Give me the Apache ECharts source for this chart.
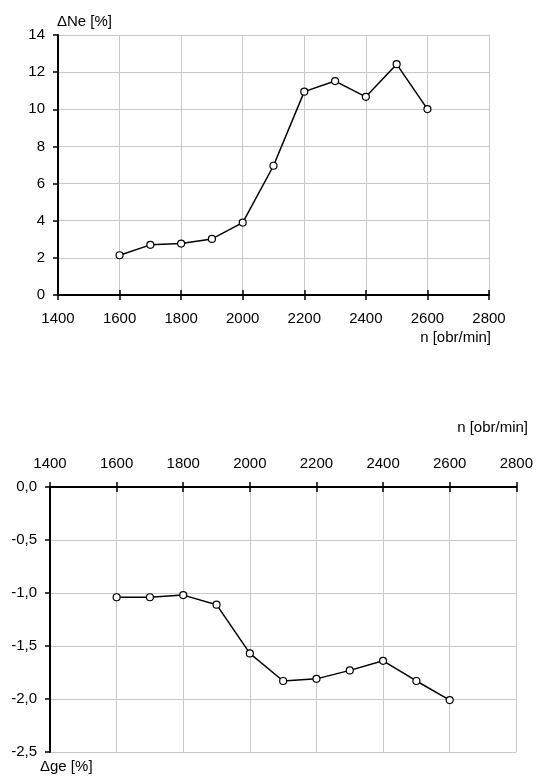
<!DOCTYPE html>
<html>
<head>
<meta charset="utf-8">
<script src="https://cdn.jsdelivr.net/npm/echarts@6/dist/echarts.min.js"></script>
<style>html,body{margin:0;padding:0;background:#fff}#c{width:536px;height:776px}</style>
</head>
<body>
<div id="c"></div>
<script>
// Data
const rpm = [1600, 1700, 1800, 1900, 2000, 2100, 2200, 2300, 2400, 2500, 2600];
const deltaNe = [2.14, 2.70, 2.77, 3.02, 3.90, 6.96, 10.95, 11.52, 10.67, 12.43, 10.01];
const deltaGe = [-1.04, -1.04, -1.02, -1.11, -1.57, -1.83, -1.81, -1.73, -1.64, -1.83, -2.01];
const xRange = [1400, 2800, 200];
const neRange = [0, 14, 2];
const geRange = [-2.5, 0, 0.5];
const labels = { ne: 'ΔNe [%]', ge: 'Δge [%]', n: 'n [obr/min]' };

const FONT = "'Liberation Sans', Arial, sans-serif";
const FS = 15;
const gridLine = { show: true, lineStyle: { color: '#c8c8c8', width: 1 } };
const axLine = { show: true, onZero: false, lineStyle: { color: '#000', width: 2 } };

function xMain(gridIndex, position) {
  return {
    type: 'value', gridIndex, position,
    min: xRange[0], max: xRange[1], interval: xRange[2],
    axisLine: axLine,
    axisTick: { show: true, inside: false, length: 5, lineStyle: { color: '#000', width: 1.5 } },
    axisLabel: { color: '#000', fontFamily: FONT, fontSize: FS, margin: 16, formatter: v => String(v) },
    splitLine: gridLine
  };
}
function xTickOnly(gridIndex, position) {
  return {
    type: 'value', gridIndex, position,
    min: xRange[0], max: xRange[1], interval: xRange[2],
    axisLine: { show: false, onZero: false },
    axisTick: { show: true, inside: true, length: 5, lineStyle: { color: '#000', width: 1.5 } },
    axisLabel: { show: false },
    splitLine: { show: false }
  };
}
function yAxis(gridIndex, range, fmt) {
  return {
    type: 'value', gridIndex,
    min: range[0], max: range[1], interval: range[2],
    axisLine: axLine,
    axisTick: { show: true, inside: false, length: 5, lineStyle: { color: '#000', width: 1.5 } },
    axisLabel: { color: '#000', fontFamily: FONT, fontSize: FS, margin: 13, formatter: fmt },
    splitLine: gridLine
  };
}

const lineSeries = (xi, yi, ys) => ({
  type: 'line', xAxisIndex: xi, yAxisIndex: yi,
  data: rpm.map((x, i) => [x, ys[i]]),
  symbol: 'circle', symbolSize: 7,
  itemStyle: { color: '#fff', borderColor: '#000', borderWidth: 1.2 },
  lineStyle: { color: '#000', width: 1.5 },
  animation: false, z: 5
});

const chart = echarts.init(document.getElementById('c'), null, { renderer: 'canvas' });
chart.setOption({
  animation: false,
  textStyle: { fontFamily: FONT },
  grid: [
    { left: 58, right: 47, top: 35, height: 260, containLabel: false },
    { left: 50, right: 18, top: 487, height: 265, containLabel: false }
  ],
  xAxis: [
    xMain(0, 'bottom'), xTickOnly(0, 'bottom'),
    xMain(1, 'top'), xTickOnly(1, 'top')
  ],
  yAxis: [
    yAxis(0, neRange, v => String(v)),
    yAxis(1, geRange, v => v.toFixed(1).replace('.', ','))
  ],
  series: [
    lineSeries(0, 0, deltaNe),
    lineSeries(2, 1, deltaGe)
  ],
  graphic: [
    { type: 'text', left: 57, top: 14, style: { text: labels.ne, font: FS + 'px ' + FONT, fill: '#000' } },
    { type: 'text', right: 45, top: 330, style: { text: labels.n, font: FS + 'px ' + FONT, fill: '#000' } },
    { type: 'text', right: 8, top: 420, style: { text: labels.n, font: FS + 'px ' + FONT, fill: '#000' } },
    { type: 'text', left: 40, top: 759, style: { text: labels.ge, font: FS + 'px ' + FONT, fill: '#000' } }
  ]
});
</script>
</body>
</html>
